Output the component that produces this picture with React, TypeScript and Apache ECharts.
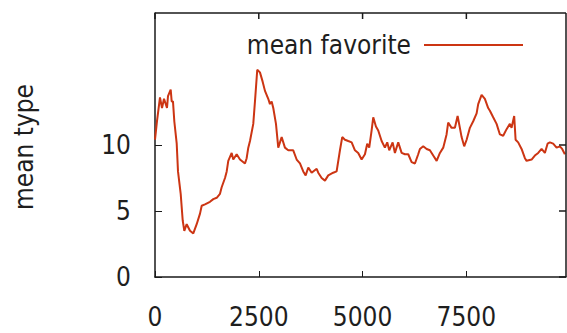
import React, { useEffect, useRef } from "react";
import * as echarts from "echarts";

const seriesName = "mean favorite";
const yAxisTitle = "mean type";
const xTicks = [0, 2500, 5000, 7500];
const yTicks = [0, 5, 10];
const xMax = 9900;
const yMax = 20;

const steps = [
  0, 48, 120, 169, 217, 289, 313, 378, 402, 433, 465, 523, 554, 619, 667, 706, 763, 843, 922,
  1004, 1084, 1125, 1204, 1324, 1404, 1486, 1565, 1606, 1686, 1727, 1765, 1847, 1885, 1967,
  2047, 2167, 2208, 2247, 2288, 2367, 2408, 2463, 2528, 2593, 2649, 2728, 2769, 2810, 2849,
  2914, 2969, 3051, 3130, 3210, 3330, 3412, 3492, 3571, 3629, 3692, 3773, 3894, 3932, 4014,
  4094, 4173, 4293, 4375, 4455, 4510, 4575, 4655, 4737, 4816, 4895, 4977, 5057, 5112, 5160,
  5218, 5257, 5322, 5377, 5459, 5538, 5594, 5642, 5724, 5779, 5859, 5941, 6020, 6100, 6181,
  6261, 6340, 6381, 6461, 6543, 6622, 6702, 6784, 6863, 6943, 7023, 7062, 7144, 7224, 7289,
  7344, 7385, 7448, 7506, 7585, 7665, 7747, 7785, 7867, 7946, 8026, 8067, 8146, 8228, 8308,
  8387, 8469, 8548, 8589, 8652, 8686, 8748, 8830, 8910, 8951, 9071, 9150, 9230, 9312, 9391,
  9456, 9512, 9591, 9673, 9752, 9808, 9873,
];

const meanFavorite = [
  10.4, 11.8, 13.6, 12.8, 13.5, 12.8, 13.7, 14.2, 13.3, 13.3, 11.8, 10.1, 8.0, 6.3, 4.3, 3.5, 4.0, 3.5, 3.3,
  4.0, 4.8, 5.4, 5.5, 5.7, 5.9, 6.0, 6.3, 6.8, 7.5, 8.0, 8.8, 9.4, 8.9, 9.3,
  8.9, 8.6, 9.0, 9.8, 10.3, 11.6, 13.3, 15.7, 15.5, 14.8, 14.1, 13.5, 13.1, 13.3, 12.8,
  11.6, 9.8, 10.6, 9.8, 9.6, 9.6, 8.9, 8.6, 8.0, 7.7, 8.3, 7.9, 8.2, 7.9, 7.5,
  7.3, 7.7, 7.9, 8.0, 9.6, 10.6, 10.4, 10.3, 10.2, 9.6, 9.4, 8.9, 9.3, 10.1, 9.8,
  11.1, 12.1, 11.4, 11.1, 10.3, 9.8, 10.2, 9.6, 10.2, 9.4, 10.2, 9.4, 9.3, 9.3, 8.7,
  8.6, 9.3, 9.7, 9.9, 9.7, 9.6, 9.2, 8.8, 9.4, 9.8, 10.8, 11.7, 11.3, 11.3, 12.2,
  11.3, 10.6, 9.9, 10.4, 11.3, 11.8, 12.4, 13.1, 13.8, 13.5, 12.8, 12.6, 12.1, 11.6, 10.8,
  10.7, 11.2, 11.6, 11.3, 12.2, 10.4, 10.2, 9.7, 9.0, 8.8, 8.9, 9.2, 9.4, 9.7, 9.4,
  10.1, 10.2, 10.1, 9.8, 9.9, 9.7, 9.3,
];

const FONT = "'DejaVu Sans Condensed', 'DejaVu Sans', sans-serif";
const TEXT = "#1e1e1e";
const AXIS = "#1a1a1a";
const LINE = "#cc3513";

export default function App() {
  const ref = useRef<HTMLDivElement>(null);
  useEffect(() => {
    if (!ref.current) return;
    const chart = echarts.init(ref.current, null, { renderer: "svg" });

    // Frame (top and right sides with mirrored inward ticks), placed through the axis scales.
    const renderFrame = (_params: any, api: any) => {
      const tl = api.coord([0, yMax]);
      const br = api.coord([xMax, 0]);
      const stroke = { stroke: AXIS, lineWidth: 1.5, fill: "none" };
      const children: any[] = [
        { type: "line", shape: { x1: tl[0], y1: tl[1], x2: br[0], y2: tl[1] }, style: { ...stroke } },
        { type: "line", shape: { x1: br[0], y1: tl[1], x2: br[0], y2: br[1] }, style: { ...stroke } },
      ];
      xTicks.forEach((v) => {
        const p = api.coord([v, yMax]);
        children.push({
          type: "line",
          shape: { x1: p[0], y1: p[1], x2: p[0], y2: p[1] + 6 },
          style: { ...stroke },
        });
      });
      yTicks.forEach((v) => {
        const p = api.coord([xMax, v]);
        children.push({
          type: "line",
          shape: { x1: p[0], y1: p[1], x2: p[0] - 7, y2: p[1] },
          style: { ...stroke },
        });
      });
      return { type: "group", children };
    };

    chart.setOption({
      animation: false,
      backgroundColor: "#ffffff",
      grid: { left: 155, top: 13, right: 1, bottom: 56 },
      legend: {
        data: [{ name: seriesName, icon: "rect" }],
        right: 39,
        top: 27,
        align: "right",
        itemWidth: 99,
        itemHeight: 2,
        textStyle: { fontFamily: FONT, fontSize: 26, color: TEXT, padding: [0, 8, 0, 0] },
      },
      xAxis: {
        type: "value",
        position: "bottom",
        min: 0,
        max: xMax,
        interval: 2500,
        splitLine: { show: false },
        axisLine: { show: true, onZero: false, lineStyle: { color: AXIS, width: 1.5 } },
        axisTick: { show: true, inside: true, length: 6, customValues: xTicks.slice() },
        axisLabel: {
          show: true,
          margin: 27,
          fontFamily: FONT,
          fontSize: 26,
          color: TEXT,
          customValues: xTicks.slice(),
          formatter: (v: number) => String(v),
        },
      },
      yAxis: {
        type: "value",
        position: "left",
        min: 0,
        max: yMax,
        interval: 5,
        splitLine: { show: false },
        axisLine: { show: true, onZero: false, lineStyle: { color: AXIS, width: 1.5 } },
        axisTick: { show: true, inside: true, length: 7, customValues: yTicks.slice() },
        axisLabel: {
          show: true,
          margin: 24,
          fontFamily: FONT,
          fontSize: 26,
          color: TEXT,
          customValues: yTicks.slice(),
          formatter: (v: number) => String(v),
        },
      },
      graphic: [
        {
          type: "text",
          x: 24,
          y: 147,
          rotation: Math.PI / 2,
          style: {
            text: yAxisTitle,
            fontFamily: FONT,
            fontSize: 26,
            fill: TEXT,
            align: "center",
            verticalAlign: "middle",
          },
        },
      ],
      series: [
        {
          name: seriesName,
          type: "line",
          showSymbol: false,
          symbol: "none",
          clip: true,
          itemStyle: { color: LINE },
          lineStyle: { color: LINE, width: 2 },
          data: steps.map((x, i) => [x, meanFavorite[i]]),
        },
        {
          name: "frame",
          type: "custom",
          silent: true,
          clip: false,
          z: 5,
          renderItem: renderFrame,
          data: [[0, 0]],
        },
      ],
    });
    return () => chart.dispose();
  }, []);
  return (
    <div
      ref={ref}
      style={{ position: "absolute", left: 0, top: 0, width: 567, height: 333 }}
    />
  );
}
